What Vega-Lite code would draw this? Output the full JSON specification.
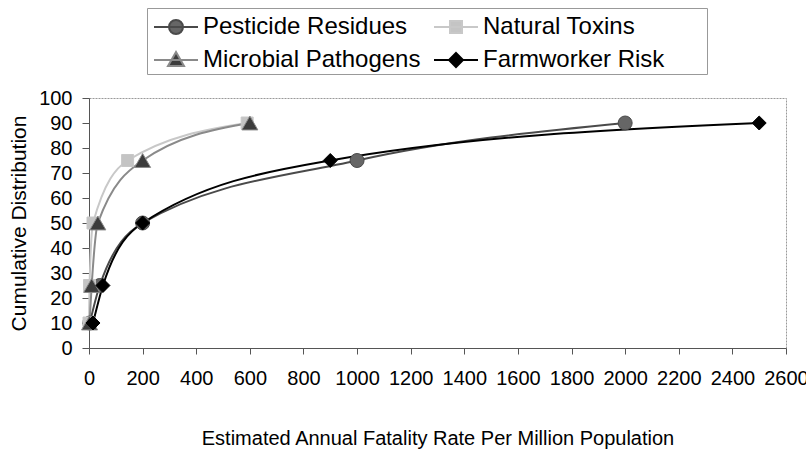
{
  "$schema": "https://vega.github.io/schema/vega-lite/v6.json",
  "width": 697,
  "height": 250,
  "autosize": "none",
  "padding": {"left": 89, "top": 98, "right": 20, "bottom": 107},
  "background": "white",
  "config": {
    "font": "Liberation Sans",
    "view": {"stroke": "#999999", "strokeDash": [2, 1]}
  },
  "data": {
    "values": [
      {"series": "Pesticide Residues", "rate": 3, "cum": 10},
      {"series": "Pesticide Residues", "rate": 40, "cum": 25},
      {"series": "Pesticide Residues", "rate": 200, "cum": 50},
      {"series": "Pesticide Residues", "rate": 1000, "cum": 75},
      {"series": "Pesticide Residues", "rate": 2000, "cum": 90},
      {"series": "Natural Toxins", "rate": 0, "cum": 10},
      {"series": "Natural Toxins", "rate": 2, "cum": 25},
      {"series": "Natural Toxins", "rate": 15, "cum": 50},
      {"series": "Natural Toxins", "rate": 144, "cum": 75},
      {"series": "Natural Toxins", "rate": 590, "cum": 90},
      {"series": "Microbial Pathogens", "rate": 2, "cum": 10},
      {"series": "Microbial Pathogens", "rate": 10, "cum": 25},
      {"series": "Microbial Pathogens", "rate": 33, "cum": 50},
      {"series": "Microbial Pathogens", "rate": 200, "cum": 75},
      {"series": "Microbial Pathogens", "rate": 600, "cum": 90},
      {"series": "Farmworker Risk", "rate": 15, "cum": 10},
      {"series": "Farmworker Risk", "rate": 52, "cum": 25},
      {"series": "Farmworker Risk", "rate": 200, "cum": 50},
      {"series": "Farmworker Risk", "rate": 900, "cum": 75},
      {"series": "Farmworker Risk", "rate": 2500, "cum": 90}
    ]
  },
  "encoding": {
    "x": {
      "field": "rate",
      "type": "quantitative",
      "scale": {"domain": [0, 2600], "nice": false},
      "axis": {
        "title": "Estimated Annual Fatality Rate Per Million Population",
        "values": [0, 200, 400, 600, 800, 1000, 1200, 1400, 1600, 1800, 2000, 2200, 2400, 2600],
        "format": "d",
        "grid": false,
        "domainColor": "#555555",
        "tickColor": "#555555",
        "tickSize": 6,
        "labelFontSize": 20,
        "labelPadding": 14,
        "labelColor": "black",
        "labelFlush": false,
        "labelOverlap": false,
        "titleFontSize": 20,
        "titleFontWeight": "normal",
        "titleColor": "black",
        "titleY": 96,
        "titleBaseline": "alphabetic"
      }
    },
    "y": {
      "field": "cum",
      "type": "quantitative",
      "scale": {"domain": [0, 100], "nice": false},
      "axis": {
        "title": "Cumulative Distribution",
        "values": [0, 10, 20, 30, 40, 50, 60, 70, 80, 90, 100],
        "format": "d",
        "grid": false,
        "domainColor": "#555555",
        "tickColor": "#555555",
        "tickSize": 7,
        "labelFontSize": 20,
        "labelPadding": 10,
        "labelColor": "black",
        "labelFlush": false,
        "labelOverlap": false,
        "titleFontSize": 21,
        "titleFontWeight": "normal",
        "titleColor": "black",
        "titleX": -64,
        "titleY": 125,
        "titleBaseline": "alphabetic"
      }
    }
  },
  "layer": [
    {
      "mark": {"type": "line", "interpolate": "monotone"},
      "encoding": {
        "stroke": {
          "field": "series",
          "type": "nominal",
          "scale": {
            "domain": ["Pesticide Residues", "Microbial Pathogens", "Natural Toxins", "Farmworker Risk"],
            "range": ["#4a4a4a", "#8a8a8a", "#c8c8c8", "#000000"]
          },
          "legend": {"title": null}
        },
        "strokeWidth": {
          "field": "series",
          "type": "nominal",
          "scale": {
            "domain": ["Pesticide Residues", "Microbial Pathogens", "Natural Toxins", "Farmworker Risk"],
            "range": [2, 2, 2, 3]
          },
          "legend": {"title": null}
        }
      }
    },
    {
      "transform": [{"filter": "datum.series === 'Pesticide Residues'"}],
      "mark": {"type": "point", "shape": "circle", "size": 196, "filled": true, "opacity": 1, "strokeWidth": 1},
      "encoding": {
        "fill": {"field": "series", "type": "nominal", "legend": {"title": null}},
        "stroke": {"field": "series", "type": "nominal", "legend": {"title": null}}
      }
    },
    {
      "transform": [{"filter": "datum.series === 'Natural Toxins'"}],
      "mark": {"type": "point", "shape": "square", "size": 144, "filled": true, "opacity": 1, "strokeWidth": 1},
      "encoding": {
        "fill": {"field": "series", "type": "nominal", "legend": {"title": null}},
        "stroke": {"field": "series", "type": "nominal", "legend": {"title": null}}
      }
    },
    {
      "transform": [{"filter": "datum.series === 'Microbial Pathogens'"}],
      "mark": {"type": "point", "shape": "triangle-up", "size": 256, "filled": true, "opacity": 1, "strokeWidth": 1},
      "encoding": {
        "fill": {"field": "series", "type": "nominal", "legend": {"title": null}},
        "stroke": {"field": "series", "type": "nominal", "legend": {"title": null}}
      }
    },
    {
      "transform": [{"filter": "datum.series === 'Farmworker Risk'"}],
      "mark": {"type": "point", "shape": "diamond", "size": 196, "filled": true, "opacity": 1, "strokeWidth": 1},
      "encoding": {
        "fill": {"field": "series", "type": "nominal", "legend": {"title": null}},
        "stroke": {"field": "series", "type": "nominal", "legend": {"title": null}}
      }
    },
    {
      "mark": {"type": "point", "opacity": 0},
      "encoding": {
        "fill": {
          "field": "series",
          "type": "nominal",
          "scale": {
            "domain": ["Pesticide Residues", "Microbial Pathogens", "Natural Toxins", "Farmworker Risk"],
            "range": ["#666666", "#3c3c3c", "#c4c4c4", "#000000"]
          },
          "legend": {"title": null}
        },
        "stroke": {"field": "series", "type": "nominal", "legend": {"title": null}},
        "shape": {
          "field": "series",
          "type": "nominal",
          "scale": {
            "domain": ["Pesticide Residues", "Microbial Pathogens", "Natural Toxins", "Farmworker Risk"],
            "range": [
              "M-0.75,0L2,0M1.0625,0C1.0625,0.2416,0.8666,0.4375,0.625,0.4375C0.3834,0.4375,0.1875,0.2416,0.1875,0C0.1875,-0.2416,0.3834,-0.4375,0.625,-0.4375C0.8666,-0.4375,1.0625,-0.2416,1.0625,0Z",
              "M-0.75,0L2,0M0.625,-0.5L1.125,0.375L0.125,0.375Z",
              "M-0.75,0L2,0M0.25,-0.375L1,-0.375L1,0.375L0.25,0.375Z",
              "M-0.75,0L2,0M0.625,-0.4375L1.0625,0L0.625,0.4375L0.1875,0Z"
            ]
          },
          "legend": {
            "title": null,
            "orient": "none",
            "legendX": 58,
            "legendY": -90,
            "columns": 2,
            "columnPadding": 8,
            "rowPadding": 4,
            "padding": 2,
            "symbolSize": 1024,
            "labelFontSize": 24,
            "labelOffset": 20,
            "labelColor": "black",
            "labelLimit": 400,
            "strokeColor": "#999999",
            "fillColor": "white",
            "symbolOpacity": 1,
            "labelExpr": "(datum.label === 'Farmworker Risk' || datum.label === 'Natural Toxins') ? datum.label + '\u00a0\u00a0\u00a0\u00a0\u00a0\u00a0\u200b' : datum.label"
          }
        }
      }
    }
  ]
}
